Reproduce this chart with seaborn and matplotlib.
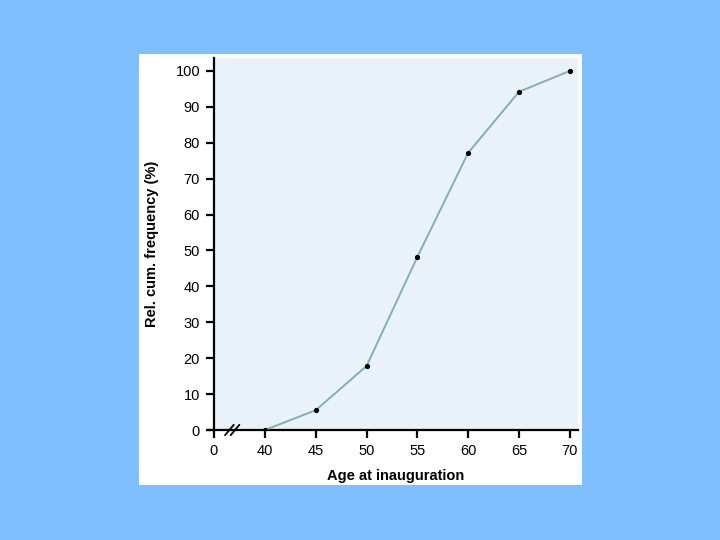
import numpy as np
import pandas as pd
import matplotlib
matplotlib.use("Agg")
import matplotlib.pyplot as plt
import seaborn as sns
from matplotlib.patches import Rectangle

# data
ages = [40, 45, 50, 55, 60, 65, 70]
cum_freq = [0, 5.5, 17.8, 48.2, 77.2, 94.2, 100]
x_ticks = [0, 40, 45, 50, 55, 60, 65, 70]
y_ticks = [0, 10, 20, 30, 40, 50, 60, 70, 80, 90, 100]

df = pd.DataFrame({"age": ages, "freq": cum_freq})

sns.set_style("white")
plt.rcParams['font.family'] = ['Liberation Sans Narrow', 'Liberation Sans', 'DejaVu Sans']
plt.rcParams['text.color'] = 'black'
plt.rcParams['axes.labelcolor'] = 'black'
plt.rcParams['xtick.color'] = 'black'
plt.rcParams['ytick.color'] = 'black'


# broken x axis: 0..40 squeezed into one 5-year step
def fwd(x):
    x = np.asarray(x, dtype=float)
    return np.where(x < 40, x / 8.0, x - 35.0)


def inv(y):
    y = np.asarray(y, dtype=float)
    return np.where(y < 5, y * 8.0, y + 35.0)


fig = plt.figure(figsize=(7.2, 5.4), dpi=100)
fig.patch.set_facecolor('#80bfff')
fig.patches.append(Rectangle((139 / 720, 1 - 485 / 540), 443 / 720, 431 / 540,
                             transform=fig.transFigure, facecolor='white',
                             edgecolor='none', zorder=-10))

ax = fig.add_axes([214 / 720, 1 - 430 / 540, 364 / 720, 372 / 540])
ax.set_zorder(5)
ax.set_facecolor('#e9f1f9')
ax.set_xscale('function', functions=(fwd, inv))

sns.lineplot(data=df, x="age", y="freq", ax=ax, color='#80b2b0', linewidth=1.4,
             marker='o', markersize=3, markerfacecolor='black',
             markeredgecolor='black', zorder=3)

ax.set_xlim(0, 70.8)
ax.set_ylim(0, 103.6)
ax.set_xticks(x_ticks)
ax.set_yticks(y_ticks)
ax.set_xticklabels([str(t) for t in x_ticks])
ax.set_yticklabels([str(t) for t in y_ticks])
ax.tick_params(axis='both', direction='out', length=6, width=1.6,
               color='black', labelcolor='black', labelsize=10.5, pad=4,
               bottom=True, left=True)

for s in ['top', 'right']:
    ax.spines[s].set_visible(False)
for s in ['left', 'bottom']:
    ax.spines[s].set_color('black')
    ax.spines[s].set_linewidth(1.6)

ax.set_xlabel('Age at inauguration', fontsize=10.5, fontweight='bold', labelpad=8)
ax.set_ylabel('Rel. cum. frequency (%)', fontsize=10.5, fontweight='bold', labelpad=12)

# extend the x axis line a little to the left of the y axis
ax.plot([-0.02, 0], [0, 0], transform=ax.transAxes, color='black',
        linewidth=1.6, clip_on=False, solid_capstyle='butt')

# break marks on the x axis
for dx in [-2.8, 2.8]:
    c = 0.05 + dx / 364
    ax.plot([c - 0.012, c + 0.012], [-0.014, 0.014],
            transform=ax.transAxes, color='black', linewidth=1.3,
            clip_on=False, zorder=5)

ax.grid(False)
fig.savefig('out.png', dpi=100, facecolor=fig.get_facecolor())
